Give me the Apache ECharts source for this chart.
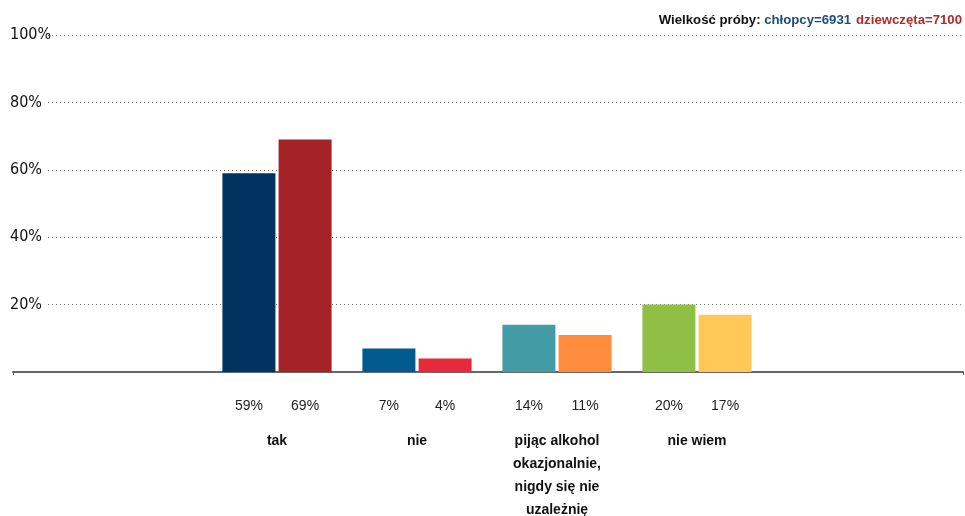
<!DOCTYPE html>
<html><head><meta charset="utf-8">
<script src="https://cdn.jsdelivr.net/npm/echarts@6/dist/echarts.min.js"></script>
<style>html,body{margin:0;padding:0;background:#fff}#c{width:965px;height:516px}</style>
</head><body><div id="c"></div>
<script>
const categories = ['tak', 'nie', 'pijąc alkohol\nokazjonalnie,\nnigdy się nie\nuzależnię', 'nie wiem'];
const boys = [59, 7, 14, 20];
const girls = [69, 4, 11, 17];
const yTicks = [0, 20, 40, 60, 80, 100];
const boysColors = ['#00335f', '#005a8d', '#439ca5', '#8fbf44'];
const girlsColors = ['#a52326', '#e8293b', '#ff8b3d', '#ffc857'];

const chart = echarts.init(document.getElementById('c'), null, {renderer: 'canvas'});
const gridTop = 35, gridBottom = 144;
const valueLabel = {show: true, position: 'bottom', distance: 27, formatter: '{c}%', fontFamily: 'Liberation Sans, Arial, sans-serif', fontSize: 14, color: '#222'};
chart.setOption({
  animation: false,
  title: {
    text: '{k|Wielkość próby: }{b|chłopcy=6931} {g|dziewczęta=7100}',
    right: 3, top: 11, padding: 0,
    textStyle: {
      rich: {
        k: {fontFamily: 'Liberation Sans, Arial', fontWeight: 'bold', fontSize: 13.2, color: '#111'},
        b: {fontFamily: 'Liberation Sans, Arial', fontWeight: 'bold', fontSize: 13.2, color: '#1d4e7a'},
        g: {fontFamily: 'Liberation Sans, Arial', fontWeight: 'bold', fontSize: 13.2, color: '#b02a2c'}
      }
    }
  },
  grid: [
    {left: 48, right: 2, top: gridTop, bottom: gridBottom, outerBoundsMode: 'none'},
    {left: 13, right: 2, top: gridTop, bottom: gridBottom, outerBoundsMode: 'none'},
    {left: 207, width: 560, top: gridTop, bottom: gridBottom, outerBoundsMode: 'none'}
  ],
  xAxis: [
    {gridIndex: 0, type: 'value', show: false},
    {gridIndex: 1, type: 'value', min: 0, max: 1, interval: 1,
     axisLine: {show: true, lineStyle: {color: '#666', width: 2}},
     axisTick: {show: true, length: 3, lineStyle: {color: '#555', width: 1}},
     axisLabel: {show: false}, splitLine: {show: false}},
    {gridIndex: 2, type: 'category', data: categories,
     axisLine: {show: false}, axisTick: {show: false},
     axisLabel: {margin: 58, interval: 0, fontFamily: 'Liberation Sans, Arial', fontWeight: 'bold', fontSize: 14, lineHeight: 23, color: '#111'}}
  ],
  yAxis: [
    {gridIndex: 0, type: 'value', min: yTicks[0], max: yTicks[yTicks.length - 1], interval: yTicks[1] - yTicks[0],
     axisLine: {show: false}, axisTick: {show: false},
     axisLabel: {showMinLabel: false, formatter: '{value}%', align: 'left', margin: 38,
       fontFamily: 'DejaVu Sans', fontWeight: 'condensed', fontSize: 16, color: '#111'},
     splitLine: {show: true, showMinLine: false, lineStyle: {type: [1, 3], color: '#777', width: 1}}},
    {gridIndex: 1, type: 'value', show: false},
    {gridIndex: 2, type: 'value', min: 0, max: 100, show: false}
  ],
  series: [
    {type: 'bar', xAxisIndex: 2, yAxisIndex: 2, barWidth: 53, barGap: '6%',
     data: boys.map((v, i) => ({value: v, itemStyle: {color: boysColors[i]}})), label: valueLabel},
    {type: 'bar', xAxisIndex: 2, yAxisIndex: 2, barWidth: 53, barGap: '6%',
     data: girls.map((v, i) => ({value: v, itemStyle: {color: girlsColors[i]}})), label: valueLabel}
  ]
});
</script></body></html>
